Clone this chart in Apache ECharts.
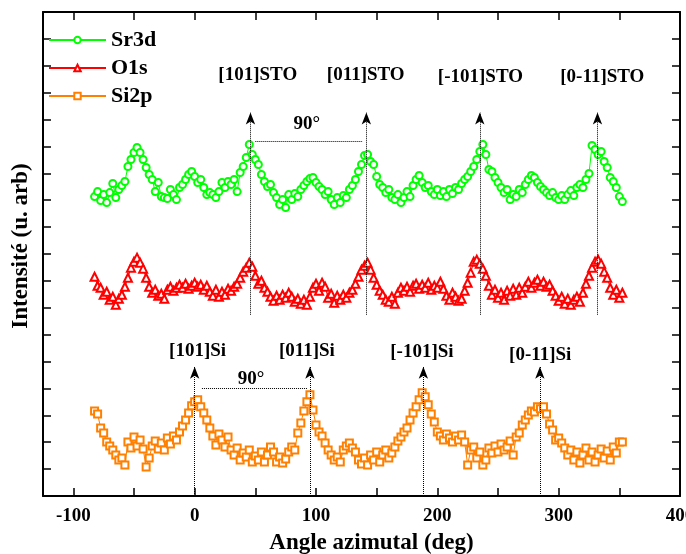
<!DOCTYPE html>
<html>
<head>
<meta charset="utf-8">
<script src="https://cdn.jsdelivr.net/npm/echarts@6/dist/echarts.min.js"></script>
<style>html,body{margin:0;padding:0;background:#fff;}#chart{width:686px;height:554px;}</style>
</head>
<body>
<div id="chart"></div>
<script>
// Azimuthal angle (deg)
var angles = [
-82.5,-80,-77.5,-75,-72.5,-70,-67.5,-65,-62.5,-60,
-57.5,-55,-52.5,-50,-47.5,-45,-42.5,-40,-37.5,-35,
-32.5,-30,-27.5,-25,-22.5,-20,-17.5,-15,-12.5,-10,
-7.5,-5,-2.5,0,2.5,5,7.5,10,12.5,15,
17.5,20,22.5,25,27.5,30,32.5,35,37.5,40,
42.5,45,47.5,50,52.5,55,57.5,60,62.5,65,
67.5,70,72.5,75,77.5,80,82.5,85,87.5,90,
92.5,95,97.5,100,102.5,105,107.5,110,112.5,115,
117.5,120,122.5,125,127.5,130,132.5,135,137.5,140,
142.5,145,147.5,150,152.5,155,157.5,160,162.5,165,
167.5,170,172.5,175,177.5,180,182.5,185,187.5,190,
192.5,195,197.5,200,202.5,205,207.5,210,212.5,215,
217.5,220,222.5,225,227.5,230,232.5,235,237.5,240,
242.5,245,247.5,250,252.5,255,257.5,260,262.5,265,
267.5,270,272.5,275,277.5,280,282.5,285,287.5,290,
292.5,295,297.5,300,302.5,305,307.5,310,312.5,315,
317.5,320,322.5,325,327.5,330,332.5,335,337.5,340,
342.5,345,347.5,350,352.5
];
// Intensities (arbitrary units, vertically offset curves)
var sr3d = [
299,304,295,301,293,303,312,298,306,310,
314,329,336,343,348,343,336,328,321,316,
304,313,299,298,297,306,301,296,308,311,
316,321,324,319,313,316,308,301,303,301,
298,304,313,308,314,311,316,304,323,329,
338,351,341,336,331,321,314,309,311,303,
298,291,296,288,301,296,302,299,306,310,
314,317,318,313,309,306,301,304,296,291,
298,293,300,298,306,310,316,324,331,340,
341,334,331,319,311,308,303,306,298,296,
301,293,298,304,299,310,316,320,313,308,
310,304,301,306,300,304,299,306,302,308,
306,312,316,319,324,329,336,344,351,341,
326,324,318,313,308,303,306,296,301,299,
306,303,311,316,320,318,313,309,306,303,
300,303,298,296,300,296,301,305,300,308,
311,308,316,322,350,346,341,344,334,328,
318,314,308,299,294
];
var o1s = [
219,210,208,201,204,196,199,191,197,201,
209,218,228,234,238,233,227,218,209,203,
206,200,202,197,206,209,205,208,211,208,
212,207,210,213,209,211,206,210,204,200,
206,199,204,201,207,205,209,212,218,224,
228,233,229,220,212,215,208,204,199,195,
200,196,201,198,203,199,194,197,192,196,
191,199,208,212,205,213,209,198,202,193,
200,196,201,198,203,206,212,219,226,230,
233,226,218,211,205,201,196,194,199,192,
203,208,205,209,204,210,212,207,211,208,
213,206,210,208,214,207,200,196,203,199,
195,197,205,213,223,234,236,232,227,220,
210,201,206,198,203,196,205,200,207,201,
208,203,209,214,208,213,216,210,214,209,
211,205,200,195,199,192,197,191,196,199,
194,203,212,220,228,234,236,232,224,218,
208,201,206,198,203
];
var si2p = [
85,82,68,63,54,50,46,41,36,38,
31,54,48,59,50,56,47,29,38,50,
55,47,53,46,58,52,60,56,64,70,
76,83,90,94,96,89,83,76,68,60,
51,62,56,49,59,46,41,48,36,43,
39,46,34,40,36,44,34,41,49,44,
34,39,33,37,44,49,46,63,73,85,
94,101,86,71,64,60,53,46,41,36,
39,34,46,50,53,48,44,36,32,38,
31,41,36,44,34,41,46,38,43,49,
55,59,64,68,76,83,89,96,103,99,
91,82,74,64,60,56,62,58,54,60,
56,61,54,31,46,49,38,44,31,36,
48,43,50,44,52,46,49,55,41,59,
63,71,76,81,85,84,89,87,89,82,
72,66,56,58,53,48,41,46,36,44,
33,41,48,36,44,34,41,47,38,45,
36,49,43,54,54
];
var seriesNames = ['Sr3d', 'O1s', 'Si2p'];

// Axis ticks / labels
var xTickValues = [-100,-50,0,50,100,150,200,250,300,350,400];
var xLabelValues = [-100,0,100,200,300,400];

// Crystal direction annotations (data coordinates)
var stoLabels = ['[101]STO', '[011]STO', '[-101]STO', '[0-11]STO'];
var stoLabelX = [52, 141, 235.5, 336];
var stoLabelY = [420, 420, 418, 418];
var stoArrowX = [46, 141.5, 235, 332];
var stoArrowY = [181, 383];
var siLabels = ['[101]Si', '[011]Si', '[-101]Si', '[0-11]Si'];
var siLabelX = [2.4, 92.5, 187.3, 284.8];
var siLabelY = [145, 145, 144, 141];
var siArrowX = [0, 95, 188.5, 284.5];
var siArrowY = [0, 129];
var angleLabel = '90°';
var stoAngleLine = [[50, 354], [138, 354]];
var stoAngleLabel = [92.5, 371];
var siAngleLine = [[6, 108], [93, 108]];
var siAngleLabel = [46.4, 117];

var SERIF = '"Liberation Serif", "Times New Roman", "DejaVu Serif", serif';
var colors = ['#00ff00', '#ff0000', '#ff8000'];
var symbols = ['emptyCircle', 'emptyTriangle', 'emptyRect'];
var symbolSizes = [7, 8, 7];
var values = [sr3d, o1s, si2p];

var dataSeries = seriesNames.map(function (n, k) {
  return {
    name: n,
    type: 'line',
    data: angles.map(function (a, i) { return [a, values[k][i]]; }),
    symbol: symbols[k],
    symbolSize: symbolSizes[k],
    showAllSymbol: true,
    itemStyle: { color: colors[k], borderWidth: 1 },
    lineStyle: { color: colors[k], width: 1 },
    emphasis: { disabled: true },
    z: 3
  };
});

var annotData = [];
stoLabels.forEach(function (t, i) { annotData.push({ name: t, value: [stoLabelX[i], stoLabelY[i]] }); });
siLabels.forEach(function (t, i) { annotData.push({ name: t, value: [siLabelX[i], siLabelY[i]] }); });
annotData.push({ name: angleLabel, value: stoAngleLabel });
annotData.push({ name: angleLabel, value: siAngleLabel });

var arrowHead = { symbol: 'arrow', symbolSize: [7, 12] };
var mlData = [];
stoArrowX.forEach(function (x) {
  mlData.push([{ coord: [x, stoArrowY[0]], symbol: 'none' }, Object.assign({ coord: [x, stoArrowY[1]] }, arrowHead)]);
});
siArrowX.forEach(function (x) {
  mlData.push([{ coord: [x, siArrowY[0]], symbol: 'none' }, Object.assign({ coord: [x, siArrowY[1]] }, arrowHead)]);
});
mlData.push([{ coord: stoAngleLine[0], symbol: 'none' }, { coord: stoAngleLine[1], symbol: 'none' }]);
mlData.push([{ coord: siAngleLine[0], symbol: 'none' }, { coord: siAngleLine[1], symbol: 'none' }]);

var annotSeries = {
  name: 'annot',
  type: 'scatter',
  data: annotData,
  symbolSize: 1,
  itemStyle: { color: 'rgba(0,0,0,0)' },
  silent: true,
  label: {
    show: true, position: 'inside', formatter: '{b}',
    fontFamily: SERIF, fontWeight: 'bold', fontSize: 19, color: '#000',
    textBorderWidth: 0, opacity: 1
  },
  markLine: {
    silent: true,
    label: { show: false },
    lineStyle: { color: '#000', type: 'dotted', width: 1 },
    itemStyle: { color: '#000' },
    emphasis: { disabled: true },
    data: mlData
  },
  z: 2
};

var tickStyle = { show: true, inside: true, length: 8, lineStyle: { color: '#000', width: 1.5 } };
var axisLineStyle = { show: true, onZero: false, lineStyle: { color: '#000', width: 2 } };

var chart = echarts.init(document.getElementById('chart'), null, { renderer: 'canvas' });
chart.setOption({
  animation: false,
  backgroundColor: '#fff',
  grid: { left: 43, right: 6, top: 12, bottom: 58, containLabel: false, outerBoundsMode: 'none' },
  legend: {
    data: seriesNames,
    orient: 'vertical',
    left: 43, top: 24,
    itemWidth: 57, itemHeight: 8, itemGap: 6,
    textStyle: { fontFamily: SERIF, fontWeight: 'bold', fontSize: 22, color: '#000' },
    selectedMode: false
  },
  xAxis: [
    {
      type: 'value', min: -125, max: 400, position: 'bottom',
      axisLine: axisLineStyle,
      axisTick: Object.assign({ customValues: xTickValues }, tickStyle),
      axisLabel: {
        customValues: xLabelValues, margin: 11, hideOverlap: false,
        fontFamily: SERIF, fontWeight: 'bold', fontSize: 19, color: '#000'
      },
      splitLine: { show: false },
      name: 'Angle azimutal (deg)', nameLocation: 'middle', nameGap: 36,
      nameTextStyle: { fontFamily: SERIF, fontWeight: 'bold', fontSize: 23, color: '#000', padding: [0, 0, 0, 20] }
    },
    {
      type: 'value', min: -125, max: 400, position: 'top',
      axisLine: axisLineStyle,
      axisTick: Object.assign({ customValues: xTickValues }, tickStyle),
      axisLabel: { show: false },
      splitLine: { show: false }
    }
  ],
  yAxis: [
    {
      type: 'value', min: 0, max: 483.3, interval: 26.85, position: 'left',
      axisLine: axisLineStyle, axisTick: tickStyle,
      axisLabel: { show: false }, splitLine: { show: false },
      name: 'Intensité (u. arb)', nameLocation: 'middle', nameGap: 10,
      nameTextStyle: { fontFamily: SERIF, fontWeight: 'bold', fontSize: 23, color: '#000', padding: [0, 0, 0, 16] }
    },
    {
      type: 'value', min: 0, max: 483.3, interval: 26.85, position: 'right',
      axisLine: axisLineStyle, axisTick: tickStyle,
      axisLabel: { show: false }, splitLine: { show: false }
    }
  ],
  series: dataSeries.concat([annotSeries])
});
</script>
</body>
</html>
